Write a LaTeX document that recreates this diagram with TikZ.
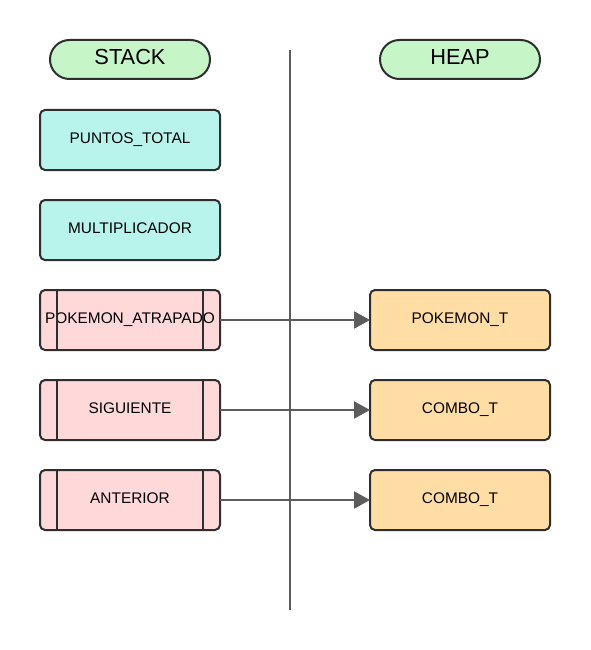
\documentclass[tikz,border=0pt]{standalone}
\usepackage{fontspec}
\setmainfont{Liberation Sans}
\usetikzlibrary{positioning}
\usetikzlibrary{arrows.meta}

\definecolor{pillgreen}{HTML}{C6F6C8}
\definecolor{stackcyan}{HTML}{B9F4EC}
\definecolor{pointerpink}{HTML}{FFD8DA}
\definecolor{heaporange}{HTML}{FFDDA5}
\definecolor{linkgray}{HTML}{5C5C5C}

\begin{document}
\begin{tikzpicture}[
        x=1pt, y=-1pt,
        node distance=90pt,
        boxnode/.style={rectangle, draw=black!82, line width=2pt, rounded corners=5pt, minimum width=180pt, minimum height=60pt, inner sep=0pt, outer sep=0pt, text height=11pt, text depth=5pt, font=\fontsize{15.4}{18}\selectfont},
        titlenode/.style={boxnode, fill=pillgreen, minimum width=160pt, minimum height=39pt, rounded corners=19.5pt, text height=16pt, text depth=5pt, font=\fontsize{21.8}{25}\selectfont},
        stacknode/.style={boxnode, fill=stackcyan},
        pointernode/.style={boxnode, fill=pointerpink},
        heapnode/.style={boxnode, fill=heaporange},
        linkline/.style={-{Triangle[length=16pt,width=17pt]}, line width=2pt, draw=linkgray, fill=linkgray}
    ]
    \useasboundingbox (0,0) rectangle (590,650);

        % divider between stack and heap
        \coordinate (DivTop) at (290,50);
        \coordinate (DivBottom) at (290,610);
        \draw [line width=2pt, draw=linkgray] (DivTop) -- (DivBottom);

        \node [titlenode] (StackTitle) at (130,59.5) {STACK};
        \node [titlenode] (HeapTitle) at (460,59.5) {HEAP};

        \node [stacknode] (Stack1) at (130,140) {PUNTOS\_TOTAL};
        \node [stacknode] (Stack2) [below of= Stack1] {MULTIPLICADOR};
        \node [pointernode] (Pointer1) [below of= Stack2] {POKEMON\_ATRAPADO};
        \node [pointernode] (Pointer2) [below of= Pointer1] {SIGUIENTE};
        \node [pointernode] (Pointer3) [below of= Pointer2] {ANTERIOR};

        \node [heapnode] (Heap1) [right of= Pointer1, node distance=330pt] {POKEMON\_T};
        \node [heapnode] (Heap2) [right of= Pointer2, node distance=330pt] {COMBO\_T};
        \node [heapnode] (Heap3) [right of= Pointer3, node distance=330pt] {COMBO\_T};

        % side bars of the pointer boxes
        \foreach \n in {Pointer1,Pointer2,Pointer3} {
            \draw [line width=2pt, draw=black!82] ([xshift=17pt]\n.north west) -- ([xshift=17pt]\n.south west);
            \draw [line width=2pt, draw=black!82] ([xshift=-17pt]\n.north east) -- ([xshift=-17pt]\n.south east);
        }

        \draw [linkline] (Pointer1) -- (Heap1) ;
        \draw [linkline] (Pointer2) -- (Heap2) ;
        \draw [linkline] (Pointer3) -- (Heap3) ;

    \end{tikzpicture}
\end{document}
